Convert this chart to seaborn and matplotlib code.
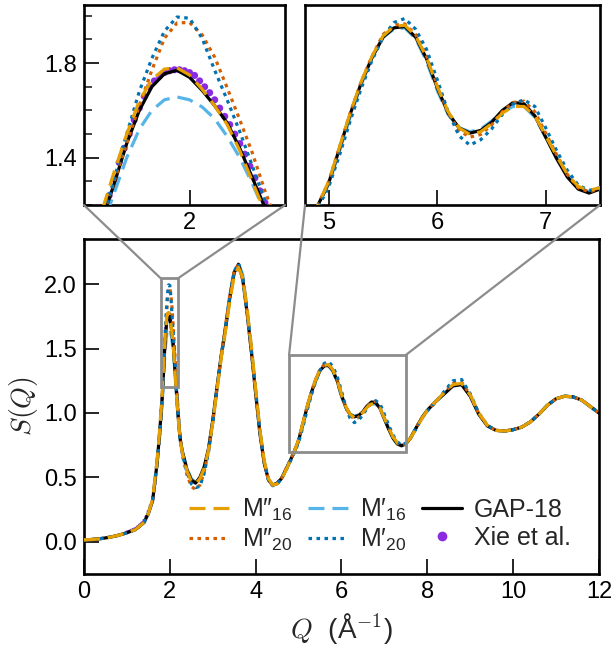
import matplotlib
matplotlib.use("Agg")
import matplotlib.pyplot as plt
from matplotlib.patches import Rectangle, ConnectionPatch
from matplotlib.lines import Line2D
from matplotlib.ticker import MultipleLocator, FormatStrFormatter
import seaborn as sns

# --- data ---
q = [0.0, 0.2, 0.4, 0.6, 0.8, 1.0, 1.2, 1.4, 1.5, 1.6, 1.7,
     1.75, 1.775, 1.8, 1.825, 1.85, 1.875, 1.9, 1.925, 1.95, 1.975, 2.0,
     2.025, 2.05, 2.075, 2.1, 2.125, 2.15, 2.175, 2.2, 2.225, 2.25,
     2.3, 2.4, 2.5, 2.6, 2.7, 2.8, 2.9, 3.0, 3.1, 3.2,
     3.3, 3.4, 3.5, 3.6, 3.7, 3.8, 3.9, 4.0, 4.1, 4.2,
     4.3, 4.4, 4.5, 4.6, 4.7, 4.8, 4.9, 5.0, 5.1, 5.2,
     5.3, 5.4, 5.5, 5.6, 5.7, 5.8, 5.9, 6.0, 6.1, 6.2,
     6.3, 6.4, 6.5, 6.6, 6.7, 6.8, 6.9, 7.0, 7.1, 7.2,
     7.3, 7.4, 7.5, 7.6, 7.7, 7.8, 7.9, 8.0,
     8.2, 8.4, 8.6, 8.8, 9.0, 9.2, 9.4, 9.6, 9.8, 10.0,
     10.2, 10.4, 10.6, 10.8, 11.0, 11.2, 11.4, 11.6, 11.8, 12.0]

gap18 = [0.015, 0.018, 0.025, 0.035, 0.05, 0.07, 0.095, 0.15, 0.22, 0.32, 0.60,
         0.79, 0.90, 1.01, 1.13, 1.29, 1.46, 1.60, 1.70, 1.755, 1.77, 1.74,
         1.685, 1.62, 1.547, 1.44, 1.315, 1.19, 1.07, 0.96, 0.86, 0.78,
         0.69, 0.56, 0.48, 0.455, 0.50, 0.58, 0.72, 0.94, 1.20, 1.45,
         1.66, 1.90, 2.09, 2.155, 2.04, 1.78, 1.48, 1.155, 0.84, 0.61,
         0.48, 0.44, 0.455, 0.49, 0.555, 0.625, 0.70, 0.785, 0.915, 1.045,
         1.16, 1.255, 1.33, 1.365, 1.37, 1.33, 1.25, 1.14, 1.045, 0.99,
         0.97, 0.98, 1.01, 1.055, 1.085, 1.08, 1.035, 0.955, 0.875, 0.805,
         0.76, 0.745, 0.76, 0.80, 0.86, 0.92, 0.975, 1.02,
         1.09, 1.15, 1.21, 1.22, 1.13, 0.99, 0.90, 0.865, 0.86, 0.87,
         0.89, 0.93, 0.99, 1.06, 1.11, 1.13, 1.125, 1.10, 1.05, 1.00]

m2_16 = [0.015, 0.018, 0.025, 0.035, 0.05, 0.07, 0.095, 0.15, 0.22, 0.33, 0.62,
         0.81, 0.93, 1.04, 1.17, 1.34, 1.50, 1.64, 1.73, 1.775, 1.78, 1.75,
         1.69, 1.62, 1.54, 1.43, 1.30, 1.17, 1.05, 0.94, 0.85, 0.77,
         0.68, 0.55, 0.47, 0.45, 0.49, 0.57, 0.71, 0.92, 1.18, 1.43,
         1.64, 1.87, 2.06, 2.13, 2.05, 1.81, 1.52, 1.19, 0.87, 0.63,
         0.49, 0.44, 0.45, 0.485, 0.55, 0.625, 0.70, 0.79, 0.92, 1.05,
         1.165, 1.26, 1.335, 1.37, 1.375, 1.335, 1.255, 1.145, 1.05, 0.99,
         0.965, 0.975, 1.005, 1.045, 1.07, 1.07, 1.035, 0.96, 0.885, 0.815,
         0.77, 0.755, 0.765, 0.80, 0.855, 0.915, 0.97, 1.02,
         1.09, 1.16, 1.22, 1.23, 1.14, 1.00, 0.905, 0.865, 0.86, 0.87,
         0.89, 0.93, 0.99, 1.06, 1.11, 1.13, 1.125, 1.10, 1.05, 1.00]

m2_20 = [0.015, 0.018, 0.025, 0.035, 0.05, 0.07, 0.095, 0.15, 0.22, 0.33, 0.60,
         0.78, 0.89, 1.00, 1.13, 1.30, 1.46, 1.62, 1.77, 1.905, 1.97, 1.972,
         1.92, 1.825, 1.695, 1.56, 1.42, 1.26, 1.12, 0.99, 0.88, 0.79,
         0.66, 0.52, 0.43, 0.405, 0.44, 0.54, 0.70, 0.93, 1.19, 1.45,
         1.68, 1.92, 2.10, 2.15, 2.03, 1.78, 1.48, 1.16, 0.85, 0.62,
         0.48, 0.435, 0.45, 0.49, 0.56, 0.63, 0.70, 0.79, 0.92, 1.05,
         1.165, 1.26, 1.34, 1.375, 1.38, 1.34, 1.26, 1.15, 1.045, 0.98,
         0.955, 0.965, 1.0, 1.05, 1.085, 1.09, 1.05, 0.97, 0.89, 0.815,
         0.765, 0.75, 0.76, 0.80, 0.86, 0.92, 0.975, 1.02,
         1.09, 1.16, 1.23, 1.24, 1.14, 0.995, 0.90, 0.865, 0.86, 0.87,
         0.89, 0.93, 0.99, 1.06, 1.11, 1.13, 1.125, 1.10, 1.05, 1.00]

m1_16 = [0.015, 0.018, 0.025, 0.035, 0.05, 0.07, 0.095, 0.15, 0.22, 0.32, 0.59,
         0.76, 0.87, 0.98, 1.10, 1.25, 1.40, 1.52, 1.60, 1.645, 1.657, 1.645,
         1.615, 1.565, 1.49, 1.40, 1.29, 1.17, 1.05, 0.94, 0.85, 0.77,
         0.69, 0.57, 0.49, 0.46, 0.49, 0.57, 0.71, 0.93, 1.19, 1.44,
         1.66, 1.90, 2.09, 2.165, 2.07, 1.81, 1.51, 1.18, 0.86, 0.62,
         0.48, 0.44, 0.455, 0.49, 0.56, 0.63, 0.70, 0.78, 0.905, 1.035,
         1.155, 1.255, 1.33, 1.36, 1.365, 1.325, 1.24, 1.13, 1.04, 0.99,
         0.975, 0.985, 1.015, 1.05, 1.07, 1.07, 1.03, 0.955, 0.88, 0.81,
         0.765, 0.75, 0.76, 0.80, 0.86, 0.92, 0.975, 1.02,
         1.09, 1.15, 1.215, 1.225, 1.14, 0.995, 0.90, 0.865, 0.86, 0.87,
         0.89, 0.93, 0.99, 1.06, 1.11, 1.13, 1.125, 1.10, 1.05, 1.00]

m1_20 = [0.015, 0.018, 0.025, 0.035, 0.05, 0.07, 0.095, 0.15, 0.22, 0.33, 0.61,
         0.78, 0.90, 1.01, 1.13, 1.31, 1.50, 1.68, 1.82, 1.935, 1.995, 1.99,
         1.905, 1.77, 1.644, 1.51, 1.365, 1.22, 1.09, 0.97, 0.87, 0.78,
         0.67, 0.54, 0.45, 0.42, 0.43, 0.53, 0.69, 0.92, 1.18, 1.44,
         1.67, 1.91, 2.10, 2.16, 2.05, 1.79, 1.49, 1.17, 0.86, 0.62,
         0.48, 0.435, 0.45, 0.485, 0.55, 0.62, 0.69, 0.77, 0.89, 1.02,
         1.14, 1.245, 1.33, 1.385, 1.40, 1.36, 1.285, 1.17, 1.05, 0.96,
         0.925, 0.945, 0.985, 1.04, 1.08, 1.095, 1.07, 0.99, 0.905, 0.83,
         0.775, 0.755, 0.765, 0.80, 0.855, 0.915, 0.97, 1.015,
         1.085, 1.17, 1.25, 1.26, 1.15, 1.00, 0.905, 0.865, 0.86, 0.87,
         0.89, 0.93, 0.99, 1.06, 1.11, 1.13, 1.125, 1.10, 1.05, 1.00]

# Xie et al. experimental points
xie_q = [1.0, 1.05, 1.1, 1.15, 1.2, 1.25, 1.3, 1.35, 1.4, 1.45, 1.5, 1.55, 1.6, 1.65, 1.7, 1.75,
         1.80, 1.81, 1.82, 1.83, 1.84, 1.85, 1.86, 1.87, 1.88, 1.89, 1.90,
         1.91, 1.92, 1.93, 1.94, 1.95, 1.96, 1.97, 1.98, 1.99, 2.00,
         2.01, 2.02, 2.03, 2.04, 2.05, 2.06, 2.07, 2.08, 2.09, 2.10,
         2.11, 2.12, 2.13, 2.14, 2.15, 2.16, 2.17, 2.18, 2.19, 2.20]
xie_s = [0.075, 0.08, 0.088, 0.095, 0.103, 0.115, 0.13, 0.145, 0.165, 0.195, 0.235, 0.28, 0.345, 0.45, 0.61, 0.80,
         1.02, 1.06, 1.11, 1.17, 1.24, 1.31, 1.38, 1.44, 1.50, 1.56, 1.61,
         1.66, 1.70, 1.725, 1.745, 1.76, 1.768, 1.772, 1.772, 1.768, 1.76,
         1.748, 1.725, 1.70, 1.675, 1.645, 1.61, 1.575, 1.54, 1.50, 1.46,
         1.415, 1.365, 1.315, 1.26, 1.21, 1.16, 1.11, 1.06, 1.01, 0.97]

labels = {"m2_16": "M″$_{16}$", "m2_20": "M″$_{20}$",
          "m1_16": "M′$_{16}$", "m1_20": "M′$_{20}$",
          "gap": "GAP-18", "xie": "Xie et al."}

# --- style ---
sns.set_style("ticks")
plt.rcParams["font.family"] = ["Liberation Sans", "DejaVu Sans"]
plt.rcParams["mathtext.fontset"] = "custom"
plt.rcParams["mathtext.rm"] = "Liberation Sans"
plt.rcParams["mathtext.it"] = "Liberation Sans:italic"
plt.rcParams["xtick.direction"] = "in"
plt.rcParams["ytick.direction"] = "in"

purple = "#8A2BE2"
lw = 2.3
series = [
    # key, values, color, linestyle, zorder
    ("m1_16", m1_16, "#56B4E9", (0, (5, 2.5)), 3),
    ("gap", gap18, "black", "-", 4),
    ("m2_20", m2_20, "#D55E00", (0, (1.1, 1.4)), 5),
    ("m1_20", m1_20, "#0072B2", (0, (1.1, 1.4)), 6),
    ("m2_16", m2_16, "#E69F00", (0, (5, 2.5)), 7),
]

fig = plt.figure(figsize=(6.13, 6.49), dpi=100)
ax = fig.add_axes([0.137, 0.1156, 0.840, 0.516])
ax1 = fig.add_axes([0.137, 0.684, 0.328, 0.308])
ax2 = fig.add_axes([0.4976, 0.684, 0.481, 0.308])

handles = {}
for a in (ax, ax1, ax2):
    # experimental dots sit under the model lines
    sns.scatterplot(x=xie_q, y=xie_s, ax=a, color=purple, s=26 if a is ax1 else 6,
                    edgecolor="none", zorder=2, legend=False)
    for key, vals, col, ls, z in series:
        sns.lineplot(x=q, y=vals, ax=a, color=col, linewidth=lw, linestyle=ls,
                     zorder=z, errorbar=None, legend=False)
        if a is ax:
            handles[key] = Line2D([], [], color=col, linewidth=lw, linestyle=ls)
    for s in a.spines.values():
        s.set_linewidth(1.9)
        s.set_color("black")
    a.tick_params(which="major", length=11, width=1.2, labelsize=17, pad=5, colors="black")
    a.tick_params(which="minor", length=6, width=1.2)
    a.set_xlabel("")
    a.set_ylabel("")
handles["xie"] = Line2D([], [], color=purple, marker="o", linestyle="none", markersize=7,
                        markeredgewidth=0)

# main axes
ax.set_xlim(0, 12)
ax.set_ylim(-0.25, 2.35)
ax.set_xticks([0, 2, 4, 6, 8, 10, 12])
ax.set_yticks([0.0, 0.5, 1.0, 1.5, 2.0])
ax.yaxis.set_major_formatter(FormatStrFormatter("%.1f"))
ax.set_xlabel(r"$Q\ $ (Å$^{-1}$)", fontsize=20, math_fontfamily="cm", labelpad=6)
ax.set_ylabel(r"$S(Q)$", fontsize=20, math_fontfamily="cm", labelpad=3)

# inset 1: first peak
ax1.set_xlim(1.79, 2.19)
ax1.set_ylim(1.2, 2.045)
ax1.set_xticks([2])
ax1.set_yticks([1.4, 1.8])
ax1.yaxis.set_major_formatter(FormatStrFormatter("%.1f"))
ax1.yaxis.set_minor_locator(MultipleLocator(0.1))

# inset 2: 5-7.5 region
ax2.set_xlim(4.78, 7.5)
ax2.set_ylim(0.70, 1.45)
ax2.set_xticks([5, 6, 7])
ax2.set_yticks([])

gray = "#8c8c8c"
for inset in (ax1, ax2):
    x0, x1 = inset.get_xlim()
    y0, y1 = inset.get_ylim()
    ax.add_patch(Rectangle((x0, y0), x1 - x0, y1 - y0, fill=False, edgecolor=gray,
                           linewidth=2.0, zorder=8))
    for xa, xb in ((0, x0), (1, x1)):
        con = ConnectionPatch(xyA=(xa, 0), coordsA=inset.transAxes, xyB=(xb, y1),
                              coordsB=ax.transData, color=gray, linewidth=1.6)
        fig.add_artist(con)

# legend, column-wise order
order = ["m2_16", "m2_20", "m1_16", "m1_20", "gap", "xie"]
ax.legend([handles[k] for k in order], [labels[k] for k in order],
          ncol=3, loc="lower right", bbox_to_anchor=(0.975, 0.018), frameon=False,
          fontsize=18, handlelength=1.6, handletextpad=0.5, columnspacing=0.6,
          labelspacing=0.15, borderpad=0.1)

fig.savefig("out.png", dpi=100)
